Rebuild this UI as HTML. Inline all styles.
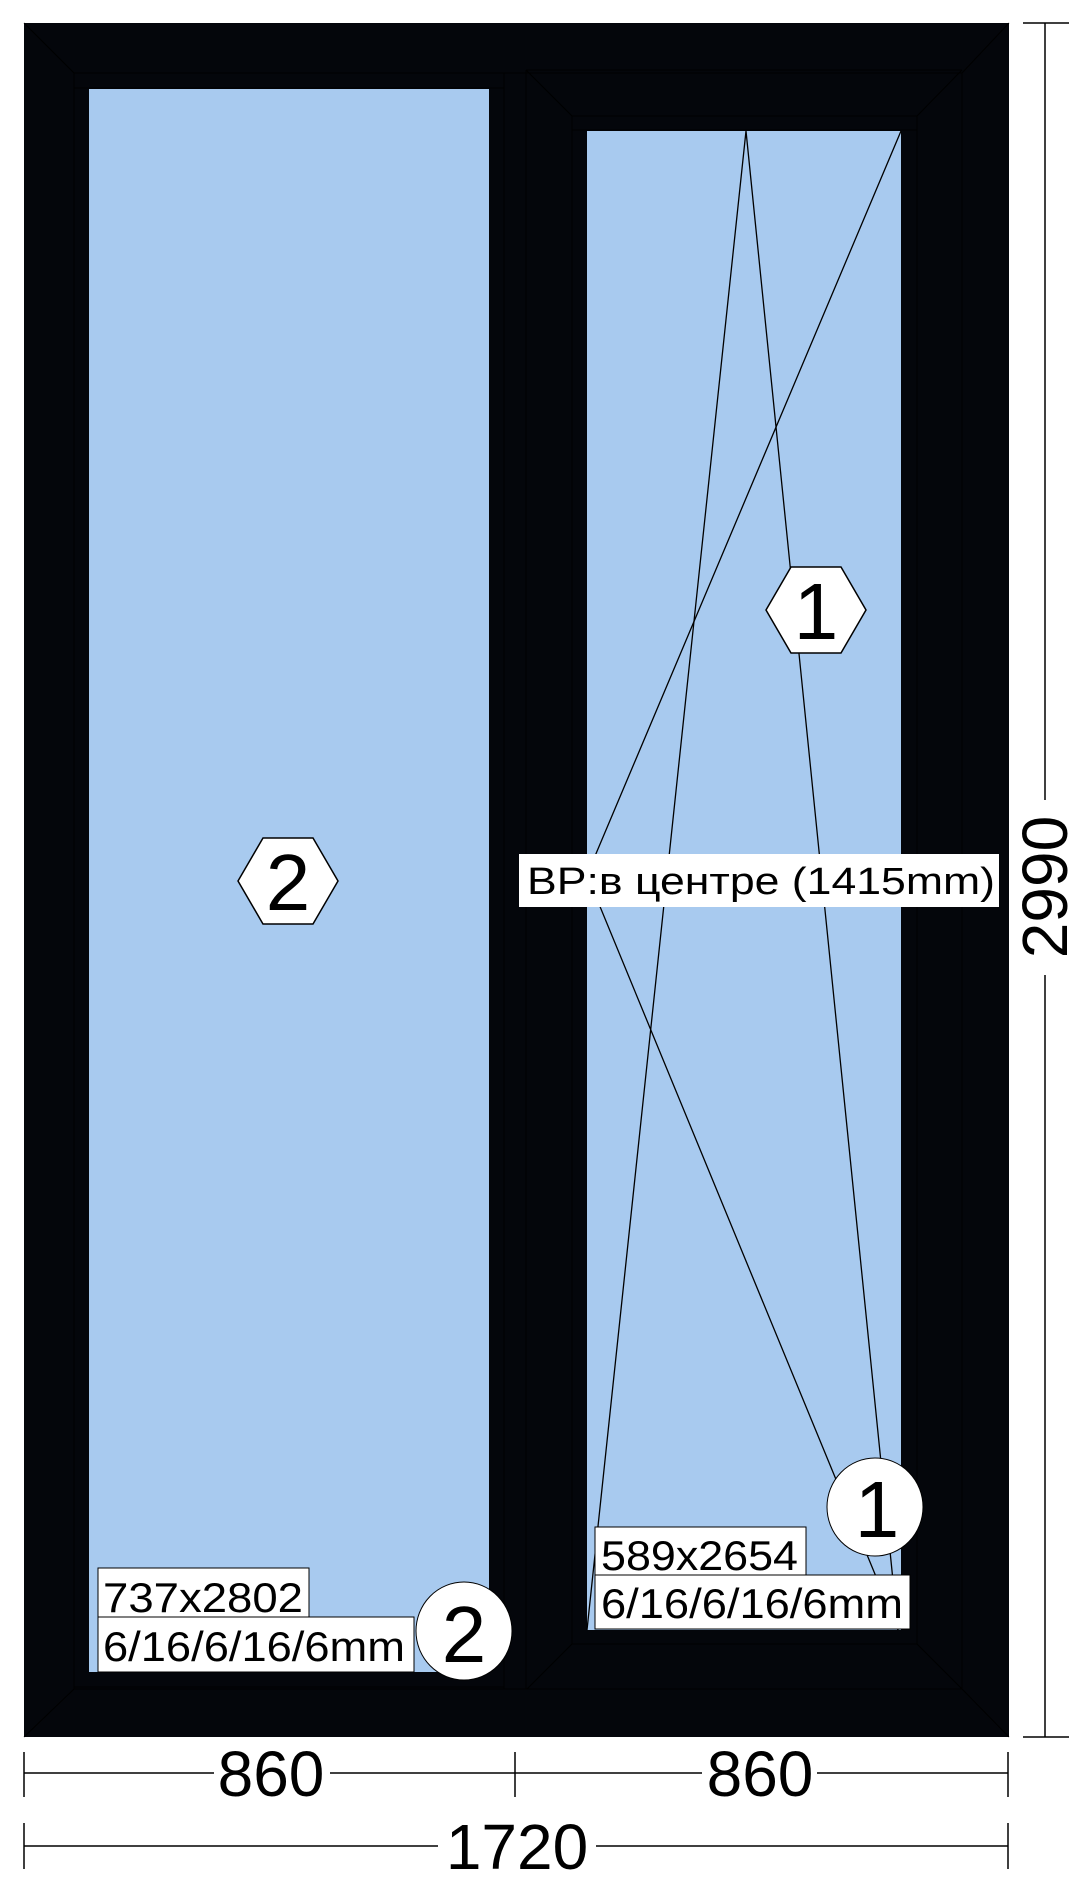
<!DOCTYPE html>
<html><head><meta charset="utf-8"><style>
html,body{margin:0;padding:0;background:#fff}
svg{display:block}
text{font-family:"Liberation Sans","DejaVu Sans",sans-serif;fill:#000}
</style></head><body>
<svg width="1089" height="1890" viewBox="0 0 1089 1890">
<g>
<rect x="24" y="23" width="985" height="1714" fill="#04060b"/>
<g stroke="#000" stroke-width="1" fill="none">
<polyline points="24,23 74,73 962,73 1009,23"/>
<polyline points="24,1737 74,1689 962,1689 1009,1737"/>
<line x1="74" y1="73" x2="74" y2="1689"/><line x1="962" y1="73" x2="962" y2="1689"/>
<line x1="504" y1="73" x2="504" y2="1689"/><line x1="526" y1="70" x2="526" y2="1689"/>
</g></g>
<g>
<line x1="74" y1="88" x2="504" y2="88" stroke="#000"/>
<rect x="89" y="89" width="400" height="1583" fill="#a8caef"/>
<line x1="74" y1="1687" x2="504" y2="1687" stroke="#000"/>
</g>
<g>
<g stroke="#000" fill="none">
<polyline points="526,70 572,116 917,116 962,70"/>
<polyline points="527,1689 572,1644 917,1644 962,1689"/>
<line x1="526" y1="70" x2="962" y2="70"/>
<line x1="572" y1="130" x2="917" y2="130"/>
<line x1="572" y1="116" x2="572" y2="1644"/><line x1="917" y1="116" x2="917" y2="1644"/>
</g>
<rect x="587" y="131" width="314" height="1499" fill="#a8caef"/>
<g stroke="#000" stroke-width="1.3" fill="none">
<polyline points="587,1630 746,131 898,1630"/>
<polyline points="901,131 587,875 898,1630"/>
</g>
</g>
<g>
<polygon points="766,610 791,567 841,567 866,610 841,653 791,653" fill="#fff" stroke="#000" stroke-width="1.5"/>
<text x="816" y="639" font-size="80" text-anchor="middle">1</text>
</g>
<g>
<polygon points="238,881 263,838 313,838 338,881 313,924 263,924" fill="#fff" stroke="#000" stroke-width="1.5"/>
<text x="288" y="910" font-size="80" text-anchor="middle">2</text>
</g>
<g>
<rect x="519" y="854" width="480" height="53" fill="#fff"/>
<text x="527" y="894" font-size="38" textLength="468" lengthAdjust="spacingAndGlyphs">BP:в центре (1415mm)</text>
</g>
<g>
<rect x="98" y="1568" width="211" height="49" fill="#fff" stroke="#000"/>
<text x="103" y="1612" font-size="42" textLength="200" lengthAdjust="spacingAndGlyphs">737x2802</text>
<rect x="98" y="1617" width="316" height="55" fill="#fff" stroke="#000"/>
<text x="103" y="1661" font-size="42" textLength="302" lengthAdjust="spacingAndGlyphs">6/16/6/16/6mm</text>
</g>
<g>
<ellipse cx="464" cy="1631" rx="48" ry="49" fill="#fff" stroke="#000"/>
<text x="464" y="1662" font-size="80" text-anchor="middle">2</text>
</g>
<g>
<rect x="595" y="1527" width="211" height="48" fill="#fff" stroke="#000"/>
<text x="601" y="1570" font-size="42" textLength="197" lengthAdjust="spacingAndGlyphs">589x2654</text>
<rect x="595" y="1575" width="315" height="54" fill="#fff" stroke="#000"/>
<text x="601" y="1618" font-size="42" textLength="302" lengthAdjust="spacingAndGlyphs">6/16/6/16/6mm</text>
</g>
<g>
<ellipse cx="875" cy="1507" rx="48" ry="49" fill="#fff" stroke="#000"/>
<text x="877" y="1537" font-size="80" text-anchor="middle">1</text>
</g>
<g stroke="#000" stroke-width="1.5">
<line x1="24" y1="1752" x2="24" y2="1797"/><line x1="515" y1="1752" x2="515" y2="1797"/><line x1="1008" y1="1752" x2="1008" y2="1797"/>
<line x1="24" y1="1773" x2="214" y2="1773"/><line x1="330" y1="1773" x2="515" y2="1773"/>
<line x1="515" y1="1773" x2="702" y2="1773"/><line x1="817" y1="1773" x2="1008" y2="1773"/>
<line x1="24" y1="1823" x2="24" y2="1869"/><line x1="1008" y1="1823" x2="1008" y2="1869"/>
<line x1="24" y1="1846" x2="438" y2="1846"/><line x1="596" y1="1846" x2="1008" y2="1846"/>
</g>
<text x="271" y="1796" font-size="64" text-anchor="middle">860</text>
<text x="760" y="1796" font-size="64" text-anchor="middle">860</text>
<text x="517" y="1869" font-size="64" text-anchor="middle">1720</text>
<g stroke="#000" stroke-width="1.5">
<line x1="1045" y1="23" x2="1045" y2="800"/><line x1="1045" y1="975" x2="1045" y2="1737"/>
<line x1="1023" y1="23" x2="1069" y2="23"/><line x1="1023" y1="1737" x2="1069" y2="1737"/>
</g>
<text x="0" y="0" font-size="64" text-anchor="middle" transform="translate(1067,887) rotate(-90)">2990</text>
</svg>
</body></html>
